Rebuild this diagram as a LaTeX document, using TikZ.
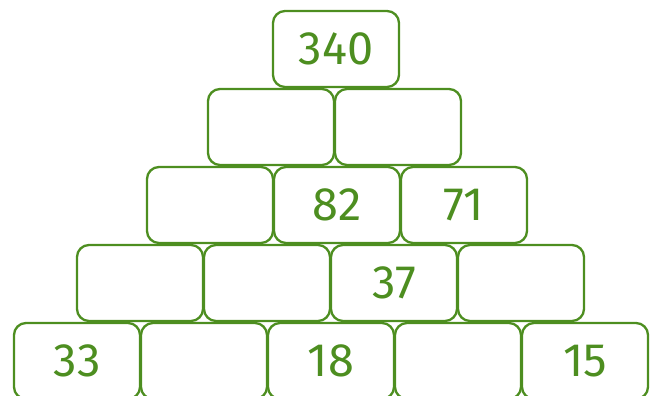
\documentclass[tikz,border=0pt]{standalone}
\usepackage{fontspec}
\setmainfont{Fira Sans}
\usetikzlibrary{positioning}
\definecolor{zold}{RGB}{77,142,32}
\tikzset{
  tegla/.style={draw=zold,line width=2pt,rounded corners=0.36cm,
    minimum width=3.78cm,minimum height=2.28cm,inner sep=0pt,
    text=zold,font=\fontsize{40}{40}\selectfont},
}
\begin{document}
\begin{tikzpicture}[x=0.03cm,y=-0.03cm]
  \useasboundingbox (0,0) rectangle (659,396);
  % bottom row
  \node[tegla] (e1) at (77,361) {33};
  \node[tegla] (e2) at (204,361) {};
  \node[tegla] (e3) at (331,361) {18};
  \node[tegla] (e4) at (458,361) {};
  \node[tegla] (e5) at (585,361) {15};
  % fourth row
  \node[tegla] (d1) at (140,283) {};
  \node[tegla] (d2) at (267,283) {};
  \node[tegla] (d3) at (394,283) {37};
  \node[tegla] (d4) at (521,283) {};
  % third row
  \node[tegla] (c1) at (210,205) {};
  \node[tegla] (c2) at (337,205) {82};
  \node[tegla] (c3) at (464,205) {71};
  % second row
  \node[tegla] (b1) at (271,127) {};
  \node[tegla] (b2) at (398,127) {};
  % top
  \node[tegla] (a1) at (336,49) {340};
\end{tikzpicture}
\end{document}
